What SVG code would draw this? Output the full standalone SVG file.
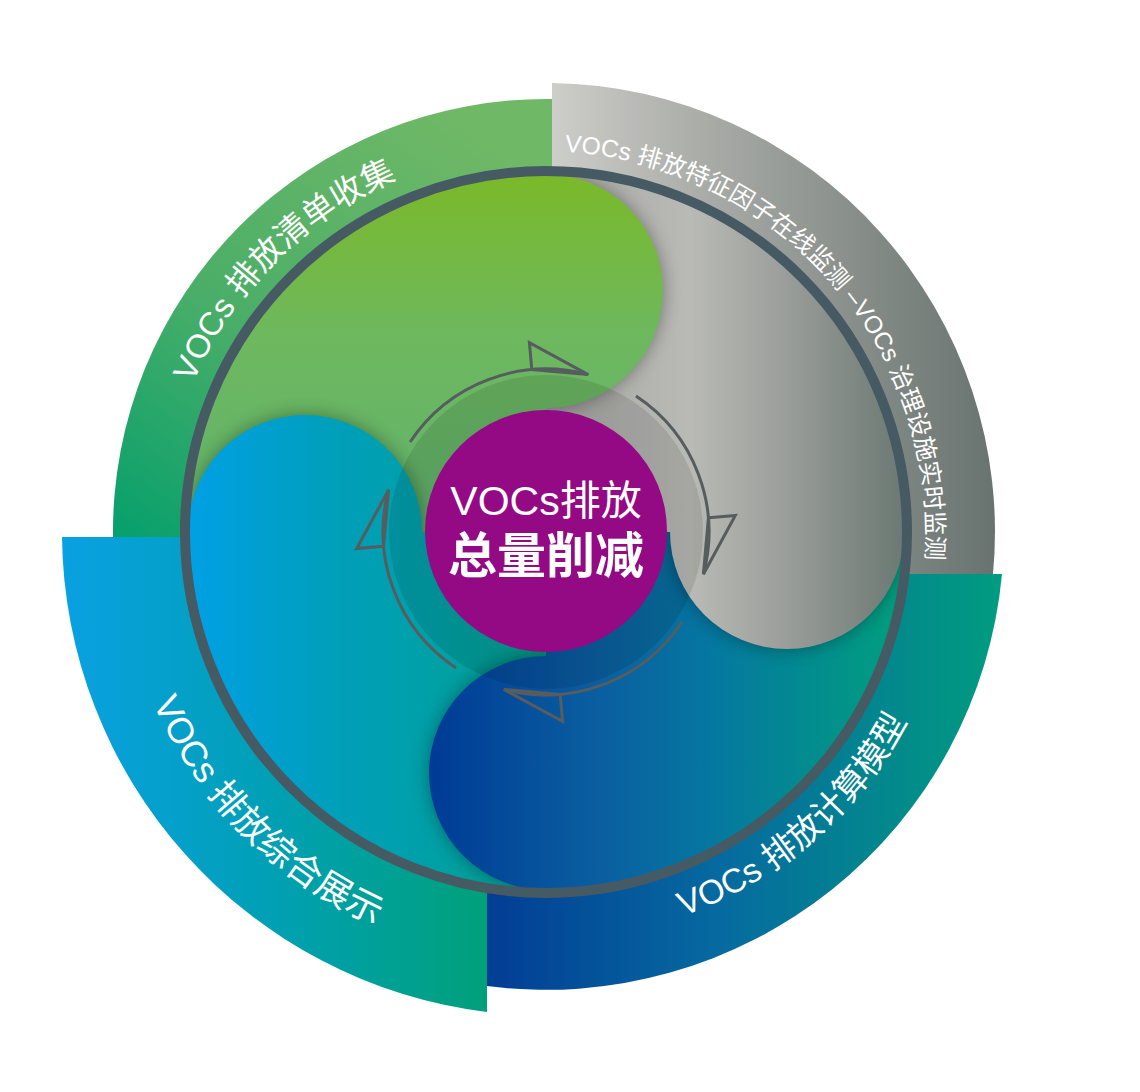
<svg xmlns="http://www.w3.org/2000/svg" width="1140" height="1092" viewBox="0 0 1140 1092">
<defs>
<style>
.lbl{fill:#ffffff;font-family:"Liberation Sans","Noto Sans CJK SC",sans-serif;}
.arr{fill:none;stroke:#575c5e;stroke-width:3;stroke-linejoin:miter;}
.shadow{fill:#000000;opacity:0.35;}
</style>
<linearGradient id="gOutGreen" gradientUnits="userSpaceOnUse" x1="430" y1="100" x2="120" y2="530">
<stop offset="0" stop-color="#6fb866"/><stop offset="0.55" stop-color="#4aae68"/><stop offset="1" stop-color="#08a06c"/>
</linearGradient>
<linearGradient id="gOutGray" gradientUnits="userSpaceOnUse" x1="552" y1="0" x2="995" y2="0">
<stop offset="0" stop-color="#cdcdca"/><stop offset="0.35" stop-color="#a9aba7"/><stop offset="1" stop-color="#68736f"/>
</linearGradient>
<linearGradient id="gOutTeal" gradientUnits="userSpaceOnUse" x1="487" y1="0" x2="1002" y2="0">
<stop offset="0" stop-color="#023d95"/><stop offset="0.45" stop-color="#066aa0"/><stop offset="1" stop-color="#009c80"/>
</linearGradient>
<linearGradient id="gOutBlue" gradientUnits="userSpaceOnUse" x1="62" y1="0" x2="487" y2="0">
<stop offset="0" stop-color="#0aa0e2"/><stop offset="0.5" stop-color="#00a0b4"/><stop offset="1" stop-color="#00a07a"/>
</linearGradient>
<linearGradient id="gInGreen" gradientUnits="userSpaceOnUse" x1="546" y1="172" x2="546" y2="532">
<stop offset="0" stop-color="#7ab928"/><stop offset="0.45" stop-color="#6eb85e"/><stop offset="1" stop-color="#60b26e"/>
</linearGradient>
<linearGradient id="gInGray" gradientUnits="userSpaceOnUse" x1="560" y1="0" x2="905" y2="0">
<stop offset="0" stop-color="#a9aaa6"/><stop offset="0.38" stop-color="#b9bab6"/><stop offset="0.64" stop-color="#9c9f9b"/><stop offset="1" stop-color="#6b7873"/>
</linearGradient>
<linearGradient id="gInTeal" gradientUnits="userSpaceOnUse" x1="430" y1="0" x2="905" y2="0">
<stop offset="0" stop-color="#003b96"/><stop offset="0.35" stop-color="#0a5ea0"/><stop offset="0.6" stop-color="#0578a0"/><stop offset="1" stop-color="#00a07e"/>
</linearGradient>
<linearGradient id="gInBlue" gradientUnits="userSpaceOnUse" x1="185" y1="0" x2="546" y2="0">
<stop offset="0" stop-color="#00a0e6"/><stop offset="0.4" stop-color="#009fbc"/><stop offset="0.75" stop-color="#00a0a2"/><stop offset="1" stop-color="#00a08c"/>
</linearGradient>
<clipPath id="disk"><circle cx="546" cy="532" r="361"/></clipPath>
<clipPath id="halfR"><rect x="546" y="100" width="420" height="900"/></clipPath>
<clipPath id="halfB"><rect x="100" y="532" width="900" height="460"/></clipPath>
<clipPath id="halfL"><rect x="100" y="100" width="446" height="900"/></clipPath>
<clipPath id="halfT"><rect x="100" y="100" width="900" height="432"/></clipPath>
<filter id="blur" x="-30%" y="-30%" width="160%" height="160%"><feGaussianBlur stdDeviation="9"/></filter>
<path id="pGreen" d="M 163 532 A 383 383 0 0 1 546 149"/>
<path id="pGray" d="M 291.6 244.4 A 384 384 0 0 1 800.4 819.6"/>
<path id="pTeal" d="M 234.7 802.6 A 412.5 412.5 0 0 0 857.3 261.4"/>
<path id="pBlue" d="M 238.1 224.1 A 435.5 435.5 0 0 0 853.9 839.9"/>
</defs>

<g id="sector-inventory">
<path d="M 552 537 L 113 537 A 433 433 0 0 1 552 99 Z" fill="url(#gOutGreen)"/>
<text class="lbl" font-size="33"><textPath href="#pGreen" startOffset="50%" text-anchor="middle">VOCs 排放清单收集</textPath></text>
</g>
<g id="sector-monitoring">
<path d="M 552 574 L 552 83 A 449 449 0 0 1 993 574 Z" fill="url(#gOutGray)"/>
<text class="lbl" font-size="24.5"><textPath href="#pGray" startOffset="50%" text-anchor="middle">VOCs 排放特征因子在线监测 –VOCs 治理设施实时监测</textPath></text>
</g>
<g id="sector-model">
<path d="M 487 574 L 1002 574 A 458 458 0 0 1 487 986 Z" fill="url(#gOutTeal)"/>
<text class="lbl" font-size="34"><textPath href="#pTeal" startOffset="50%" text-anchor="middle">VOCs 排放计算模型</textPath></text>
</g>
<g id="sector-display">
<path d="M 487 537 L 487 1012 A 484 484 0 0 1 62 537 Z" fill="url(#gOutBlue)"/>
<text class="lbl" font-size="36"><textPath href="#pBlue" startOffset="50%" text-anchor="middle">VOCs 排放综合展示</textPath></text>
</g>

<g id="pinwheel" clip-path="url(#disk)">
<rect x="180" y="166" width="366" height="366" fill="url(#gInGreen)"/>
<rect x="546" y="166" width="366" height="366" fill="url(#gInGray)"/>
<rect x="546" y="532" width="366" height="366" fill="url(#gInTeal)"/>
<rect x="180" y="532" width="366" height="366" fill="url(#gInBlue)"/>
<g clip-path="url(#halfR)"><circle class="shadow" cx="546" cy="291" r="117" filter="url(#blur)"/></g>
<circle cx="546" cy="291" r="117" fill="url(#gInGreen)"/>
<g clip-path="url(#halfB)"><circle class="shadow" cx="787" cy="532" r="117" filter="url(#blur)"/></g>
<circle cx="787" cy="532" r="117" fill="url(#gInGray)"/>
<g clip-path="url(#halfL)"><circle class="shadow" cx="546" cy="773" r="117" filter="url(#blur)"/></g>
<circle cx="546" cy="773" r="117" fill="url(#gInTeal)"/>
<g clip-path="url(#halfT)"><circle class="shadow" cx="305" cy="532" r="117" filter="url(#blur)"/></g>
<circle cx="305" cy="532" r="117" fill="url(#gInBlue)"/>
<circle cx="546" cy="532" r="157" fill="#000000" opacity="0.1"/>
</g>

<g id="connectors">
<path class="arr" d="M 681.9 622.0 A 163 163 0 0 1 503.8 689.4"/>
<path class="arr" d="M 560.2 694.4 L 562.6 721.3 L 503.8 689.4 Z"/>
<path class="arr" d="M 456.0 667.9 A 163 163 0 0 1 388.6 489.8"/>
<path class="arr" d="M 383.6 546.2 L 356.7 548.6 L 388.6 489.8 Z"/>
<path class="arr" d="M 410.1 442.0 A 163 163 0 0 1 588.2 374.6"/>
<path class="arr" d="M 531.8 369.6 L 529.4 342.7 L 588.2 374.6 Z"/>
<path class="arr" d="M 636.0 396.1 A 163 163 0 0 1 703.4 574.2"/>
<path class="arr" d="M 708.4 517.8 L 735.3 515.4 L 703.4 574.2 Z"/>
</g>

<g id="ring">
<circle cx="546" cy="532" r="361" fill="none" stroke="#465a64" stroke-width="10"/>
</g>

<g id="center">
<circle cx="546" cy="531" r="121" fill="#940a85"/>
<text class="lbl" x="546" y="515" font-size="41" text-anchor="middle">VOCs排放</text>
<text class="lbl" x="546" y="573" font-size="49" font-weight="bold" text-anchor="middle">总量削减</text>
</g>
</svg>
